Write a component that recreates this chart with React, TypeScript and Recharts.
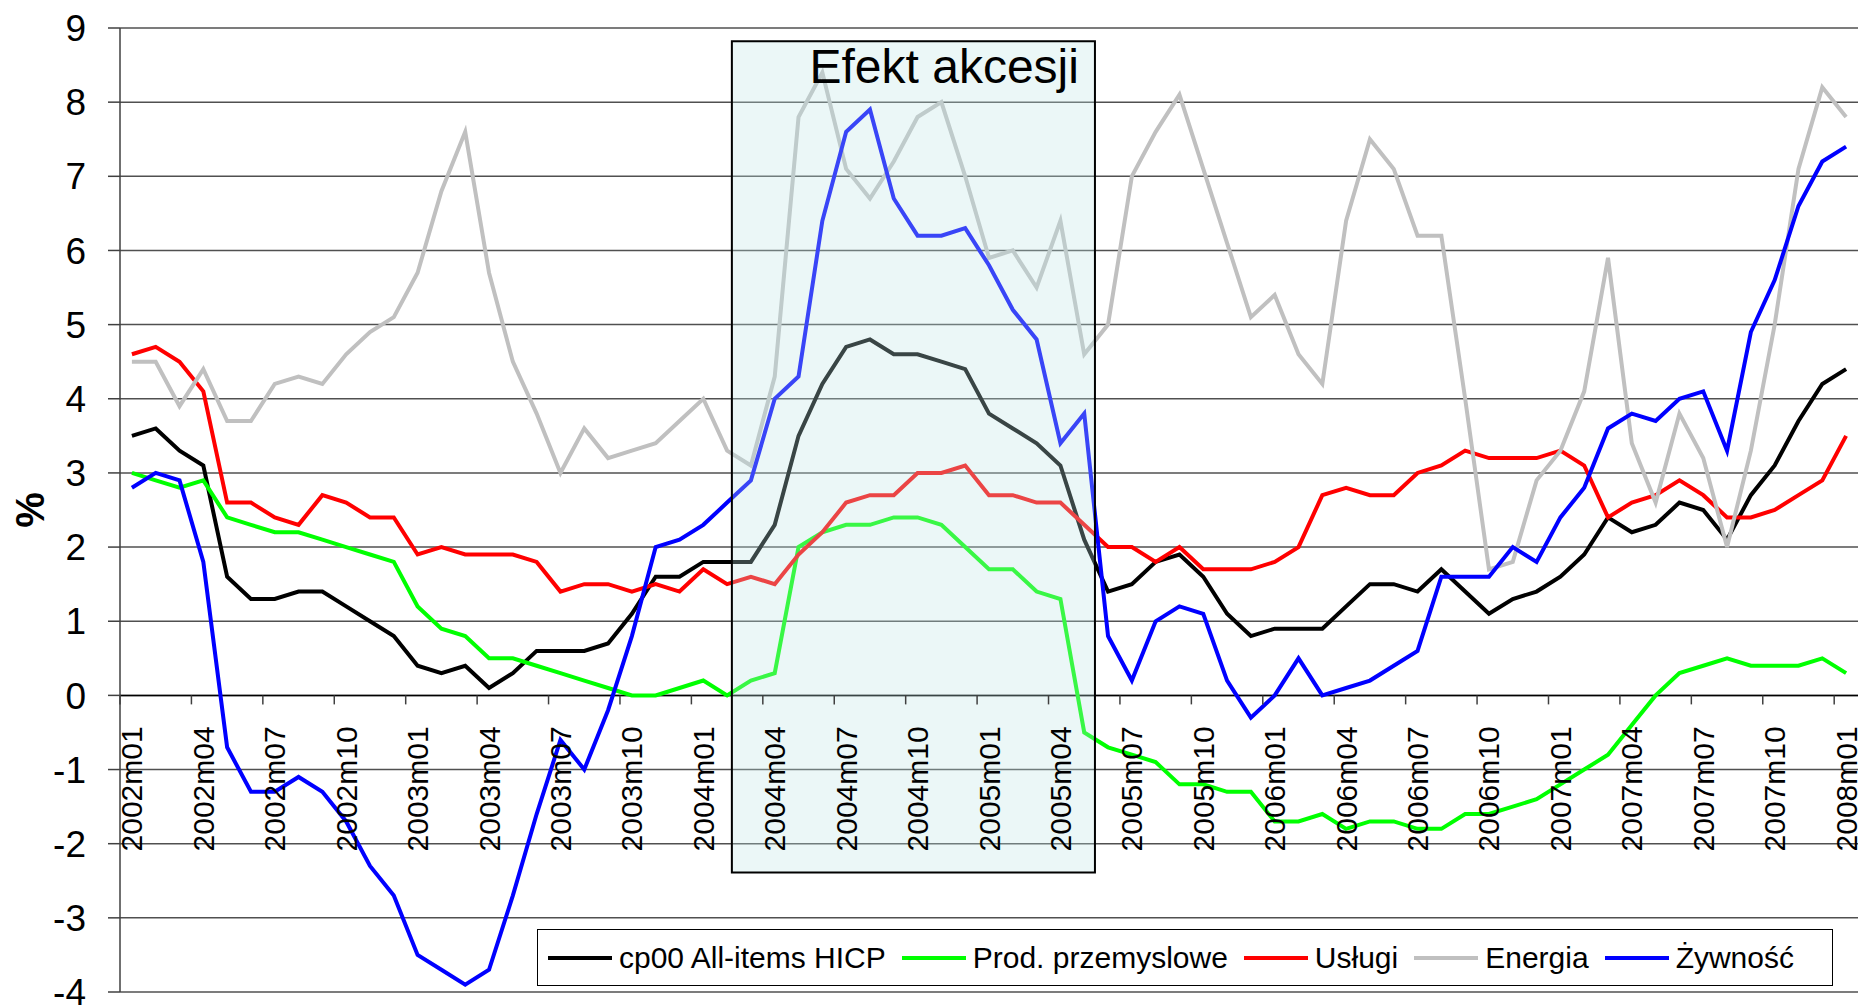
import React from 'react';
import { LineChart, Line, CartesianGrid, XAxis, YAxis, ReferenceLine, ReferenceArea } from 'recharts';

// monthly categories 2002m01 .. 2008m01
const MONTHS: string[] = [];
for (let y = 2002; y <= 2008; y++) {
  for (let m = 1; m <= 12; m++) {
    if (y === 2008 && m > 1) break;
    MONTHS.push(`${y}m${m < 10 ? '0' + m : m}`);
  }
}

const hicp = [
  3.5, 3.6, 3.3, 3.1, 1.6, 1.3, 1.3, 1.4, 1.4, 1.2, 1.0, 0.8,
  0.4, 0.3, 0.4, 0.1, 0.3, 0.6, 0.6, 0.6, 0.7, 1.1, 1.6, 1.6,
  1.8, 1.8, 1.8, 2.3, 3.5, 4.2, 4.7, 4.8, 4.6, 4.6, 4.5, 4.4,
  3.8, 3.6, 3.4, 3.1, 2.1, 1.4, 1.5, 1.8, 1.9, 1.6, 1.1, 0.8,
  0.9, 0.9, 0.9, 1.2, 1.5, 1.5, 1.4, 1.7, 1.4, 1.1, 1.3, 1.4,
  1.6, 1.9, 2.4, 2.2, 2.3, 2.6, 2.5, 2.1, 2.7, 3.1, 3.7, 4.2, 4.4,
];

const przemyslowe = [
  3.0, 2.9, 2.8, 2.9, 2.4, 2.3, 2.2, 2.2, 2.1, 2.0, 1.9, 1.8,
  1.2, 0.9, 0.8, 0.5, 0.5, 0.4, 0.3, 0.2, 0.1, 0.0, 0.0, 0.1,
  0.2, 0.0, 0.2, 0.3, 2.0, 2.2, 2.3, 2.3, 2.4, 2.4, 2.3, 2.0,
  1.7, 1.7, 1.4, 1.3, -0.5, -0.7, -0.8, -0.9, -1.2, -1.2, -1.3, -1.3,
  -1.7, -1.7, -1.6, -1.8, -1.7, -1.7, -1.8, -1.8, -1.6, -1.6, -1.5, -1.4,
  -1.2, -1.0, -0.8, -0.4, 0.0, 0.3, 0.4, 0.5, 0.4, 0.4, 0.4, 0.5, 0.3,
];

const uslugi = [
  4.6, 4.7, 4.5, 4.1, 2.6, 2.6, 2.4, 2.3, 2.7, 2.6, 2.4, 2.4,
  1.9, 2.0, 1.9, 1.9, 1.9, 1.8, 1.4, 1.5, 1.5, 1.4, 1.5, 1.4,
  1.7, 1.5, 1.6, 1.5, 1.9, 2.2, 2.6, 2.7, 2.7, 3.0, 3.0, 3.1,
  2.7, 2.7, 2.6, 2.6, 2.3, 2.0, 2.0, 1.8, 2.0, 1.7, 1.7, 1.7,
  1.8, 2.0, 2.7, 2.8, 2.7, 2.7, 3.0, 3.1, 3.3, 3.2, 3.2, 3.2,
  3.3, 3.1, 2.4, 2.6, 2.7, 2.9, 2.7, 2.4, 2.4, 2.5, 2.7, 2.9, 3.5,
];

const energia = [
  4.5, 4.5, 3.9, 4.4, 3.7, 3.7, 4.2, 4.3, 4.2, 4.6, 4.9, 5.1,
  5.7, 6.8, 7.6, 5.7, 4.5, 3.8, 3.0, 3.6, 3.2, 3.3, 3.4, 3.7,
  4.0, 3.3, 3.1, 4.3, 7.8, 8.4, 7.1, 6.7, 7.2, 7.8, 8.0, 7.0,
  5.9, 6.0, 5.5, 6.4, 4.6, 5.0, 7.0, 7.6, 8.1, 7.1, 6.1, 5.1,
  5.4, 4.6, 4.2, 6.4, 7.5, 7.1, 6.2, 6.2, 4.0, 1.7, 1.8, 2.9,
  3.3, 4.1, 5.9, 3.4, 2.6, 3.8, 3.2, 2.0, 3.3, 5.0, 7.1, 8.2, 7.8,
];

const zywnosc = [
  2.8, 3.0, 2.9, 1.8, -0.7, -1.3, -1.3, -1.1, -1.3, -1.7, -2.3, -2.7,
  -3.5, -3.7, -3.9, -3.7, -2.7, -1.6, -0.6, -1.0, -0.2, 0.8, 2.0, 2.1,
  2.3, 2.6, 2.9, 4.0, 4.3, 6.4, 7.6, 7.9, 6.7, 6.2, 6.2, 6.3,
  5.8, 5.2, 4.8, 3.4, 3.8, 0.8, 0.2, 1.0, 1.2, 1.1, 0.2, -0.3,
  0.0, 0.5, 0.0, 0.1, 0.2, 0.4, 0.6, 1.6, 1.6, 1.6, 2.0, 1.8,
  2.4, 2.8, 3.6, 3.8, 3.7, 4.0, 4.1, 3.3, 4.9, 5.6, 6.6, 7.2, 7.4,
];

const SERIES = [
  { key: 'hicp', name: 'cp00 All-items HICP', color: '#000000', values: hicp },
  { key: 'przem', name: 'Prod. przemyslowe', color: '#00FF00', values: przemyslowe },
  { key: 'uslugi', name: 'Usługi', color: '#FF0000', values: uslugi },
  { key: 'energia', name: 'Energia', color: '#C0C0C0', values: energia },
  { key: 'zywnosc', name: 'Żywność', color: '#0000FF', values: zywnosc },
];

const Y_TICKS = [-4, -3, -2, -1, 0, 1, 2, 3, 4, 5, 6, 7, 8, 9];
const X_TICKS = MONTHS.map((_, i) => i).filter((i) => i % 3 === 0);

// accession-effect box, in index / value units
const BOX = { x1: 25.2, x2: 40.45, y1: -2.39, y2: 8.82, label: 'Efekt akcesji' };

const data = MONTHS.map((m, i) => {
  const row: any = { idx: i, month: m };
  SERIES.forEach((s) => (row[s.key] = s.values[i]));
  return row;
});

const W = 1863;
const H = 1006;
const M = { top: 28, right: 5, bottom: 0, left: 0 };
const Y_W = 120;
const X_H = 14;
const PLOT_W = W - M.right - Y_W;
const PLOT_H = H - M.top - X_H;
const HALF_BAND = PLOT_W / MONTHS.length / 2;
const ZERO_Y = M.top + (9 / 13) * PLOT_H;
const FONT = '"Liberation Sans", Arial, sans-serif';

function MonthTick(props: any) {
  const { x, payload } = props;
  const tx = x - HALF_BAND;
  return (
    <g>
      <line x1={tx} y1={ZERO_Y} x2={tx} y2={ZERO_Y + 9} stroke="#404040" strokeWidth={1.5} />
      <text
        transform={`translate(${x},${ZERO_Y + 31}) rotate(-90)`}
        textAnchor="end"
        dy="0.35em"
        fontSize={30}
        fontFamily={FONT}
        fill="#000"
      >
        {MONTHS[payload.value]}
      </text>
    </g>
  );
}

function BoxLabel(props: any) {
  const vb = props.viewBox || {};
  return (
    <text x={vb.x + vb.width - 16} y={vb.y + 42} textAnchor="end" fontSize={48} fontFamily={FONT} fill="#000">
      {BOX.label}
    </text>
  );
}

function PercentLabel() {
  return (
    <text
      transform={`translate(30,${M.top + PLOT_H / 2}) rotate(-90)`}
      textAnchor="middle"
      dy="0.35em"
      fontSize={40}
      fontWeight="bold"
      fontFamily={FONT}
      fill="#000"
    >
      %
    </text>
  );
}

export default function App() {
  return (
    <div style={{ position: 'absolute', left: 0, top: 0, width: W, height: H, background: '#fff', fontFamily: FONT }}>
      <LineChart width={W} height={H} data={data} margin={M}>
        <CartesianGrid vertical={false} stroke="#505050" strokeWidth={1.5} />
        <XAxis
          type="number"
          dataKey="idx"
          domain={[-0.5, 72.5]}
          ticks={X_TICKS}
          interval={0}
          height={X_H}
          axisLine={false}
          tickLine={false}
          tick={<MonthTick />}
        />
        <YAxis
          domain={[-4, 9]}
          ticks={Y_TICKS}
          interval={0}
          width={Y_W}
          tickSize={12}
          tickMargin={22}
          stroke="#404040"
          strokeWidth={1.5}
          tick={{ fontSize: 37, fill: '#000', fontFamily: FONT }}
          label={{ content: () => <PercentLabel /> }}
        />
        <ReferenceLine y={0} stroke="#000" strokeWidth={1.5} />
        {SERIES.map((s) => (
          <Line
            key={s.key}
            type="linear"
            dataKey={s.key}
            name={s.name}
            stroke={s.color}
            strokeWidth={4}
            dot={false}
            isAnimationActive={false}
          />
        ))}
        {/* box sits over the lines, like the pasted shape in the original */}
        <ReferenceArea
          x1={BOX.x1}
          x2={BOX.x2}
          y1={BOX.y1}
          y2={BOX.y2}
          fill="rgba(190,230,230,0.3)"
          fillOpacity={1}
          stroke="#000"
          strokeWidth={2}
          strokeOpacity={1}
          ifOverflow="visible"
          zIndex={450}
          label={<BoxLabel />}
        />
      </LineChart>
      <div
        style={{
          position: 'absolute',
          left: 537,
          top: 929,
          width: 1296,
          height: 57,
          boxSizing: 'border-box',
          border: '1.5px solid #000',
          background: '#fff',
          display: 'flex',
          alignItems: 'center',
          paddingLeft: 10,
        }}
      >
        {SERIES.map((s) => (
          <div key={s.key} style={{ display: 'flex', alignItems: 'center', marginRight: 16 }}>
            <div style={{ width: 64, height: 4, background: s.color, marginRight: 7 }} />
            <span style={{ fontSize: 30, color: '#000', whiteSpace: 'nowrap' }}>{s.name}</span>
          </div>
        ))}
      </div>
    </div>
  );
}
